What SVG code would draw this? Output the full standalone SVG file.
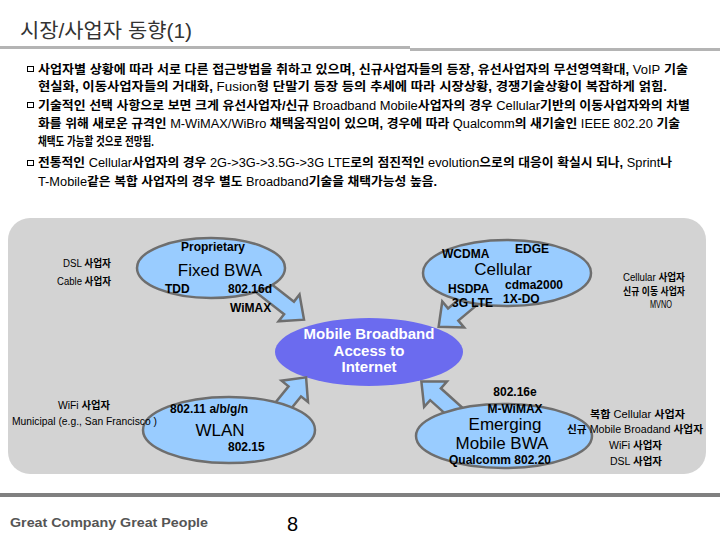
<svg xmlns="http://www.w3.org/2000/svg" width="720" height="540" viewBox="0 0 720 540">
<defs>
<style>
text{font-family:"Liberation Sans","Noto Sans CJK KR",sans-serif;fill:#000}
.title{font-size:20px;fill:#333}
.body{font-size:12.5px;font-weight:bold}
.n{font-weight:normal}
.small{font-size:10px}
.sb{font-weight:bold}
.lbl{font-size:12px;font-weight:bold}
.big{font-size:17px}
.mb{font-size:15px;font-weight:bold;fill:#fff}
.oval{fill:#99ccff;stroke:#6e6e6e;stroke-width:2.5}
.arrow{fill:#99ccff;stroke:#6e6e6e;stroke-width:2.5;stroke-linejoin:miter}
.bul{fill:none;stroke:#000;stroke-width:1}
.foot{font-size:13px;font-weight:bold;fill:#555}
</style>
</defs>
<rect width="720" height="540" fill="#fff"/>
<g id="header">
<text class="title" x="20" y="38" textLength="172" lengthAdjust="spacingAndGlyphs">시장/사업자 동향(1)</text>
<rect x="0" y="46" width="410" height="3" fill="#b4b4b4"/>
<rect x="410" y="48" width="310" height="3" fill="#b4b4b4"/>
</g>
<g id="bullets">
<rect class="bul" x="27.5" y="66.5" width="6" height="5"/>
<rect class="bul" x="27.5" y="102.5" width="6" height="5"/>
<rect class="bul" x="27.5" y="160.5" width="6" height="5"/>
<text class="body" x="38" y="74" textLength="650" lengthAdjust="spacingAndGlyphs">사업자별 상황에 따라 서로 다른 접근방법을 취하고 있으며, 신규사업자들의 등장, 유선사업자의 무선영역확대, <tspan class="n">VoIP</tspan> 기술</text>
<text class="body" x="38" y="91" textLength="629" lengthAdjust="spacingAndGlyphs">현실화, 이동사업자들의 거대화, <tspan class="n">Fusion</tspan>형 단말기 등장 등의 추세에 따라 시장상황, 경쟁기술상황이 복잡하게 얽힘.</text>
<text class="body" x="38" y="110" textLength="652" lengthAdjust="spacingAndGlyphs">기술적인 선택 사항으로 보면 크게 유선사업자/신규 <tspan class="n">Broadband Mobile</tspan>사업자의 경우 <tspan class="n">Cellular</tspan>기반의 이동사업자와의 차별</text>
<text class="body" x="38" y="128" textLength="642" lengthAdjust="spacingAndGlyphs">화를 위해 새로운 규격인 <tspan class="n">M-WiMAX/WiBro</tspan> 채택움직임이 있으며, 경우에 따라 <tspan class="n">Qualcomm</tspan>의 새기술인 <tspan class="n">IEEE 802.20</tspan> 기술</text>
<text class="body" x="38" y="146" textLength="116" lengthAdjust="spacingAndGlyphs">채택도 가능할 것으로 전망됨.</text>
<text class="body" x="38" y="167" textLength="634" lengthAdjust="spacingAndGlyphs">전통적인 <tspan class="n">Cellular</tspan>사업자의 경우 <tspan class="n">2G-&gt;3G-&gt;3.5G-&gt;3G LTE</tspan>로의 점진적인 <tspan class="n">evolution</tspan>으로의 대응이 확실시 되나, <tspan class="n">Sprint</tspan>나</text>
<text class="body" x="38" y="186" textLength="399" lengthAdjust="spacingAndGlyphs"><tspan class="n">T-Mobile</tspan>같은 복합 사업자의 경우 별도 <tspan class="n">Broadband</tspan>기술을 채택가능성 높음.</text>
</g>
<rect id="panel" x="8" y="218" width="698" height="256" rx="22" fill="#d3d3d3"/>
<g id="mobile">
<ellipse cx="369" cy="352" rx="94" ry="34" fill="#6b6bef"/>
<text class="mb" x="369" y="339" text-anchor="middle">Mobile Broadband</text>
<text class="mb" x="369" y="356" text-anchor="middle">Access to</text>
<text class="mb" x="369" y="372" text-anchor="middle">Internet</text>
</g>
<g id="connectors">
<polygon class="arrow" transform="translate(252,279) rotate(38)" points="0,-8 47,-8 47,-17 66,0 47,17 47,8 0,8"/>
<polygon class="arrow" transform="translate(480,292) rotate(140)" points="0,-8 35,-8 35,-17 54,0 35,17 35,8 0,8"/>
<polygon class="arrow" transform="translate(274,417) rotate(-51)" points="0,-8 33,-8 33,-17 51,0 33,17 33,8 0,8"/>
<polygon class="arrow" transform="translate(463,419) rotate(-138)" points="0,-8 37,-8 37,-17 56,0 37,17 37,8 0,8"/>
</g>
<g id="fixed">
<ellipse class="oval" cx="211" cy="268" rx="74" ry="30"/>
<text class="lbl" x="213" y="251" text-anchor="middle">Proprietary</text>
<text class="big" x="220" y="276" text-anchor="middle">Fixed BWA</text>
<text class="lbl" x="165" y="293">TDD</text>
<text class="lbl" x="228" y="293">802.16d</text>
<text class="lbl" x="230" y="312">WiMAX</text>
</g>
<g id="cellular">
<ellipse class="oval" cx="507" cy="273" rx="84" ry="33"/>
<text class="lbl" x="442" y="258">WCDMA</text>
<text class="lbl" x="515" y="253">EDGE</text>
<text class="big" x="503" y="275" text-anchor="middle">Cellular</text>
<text class="lbl" x="448" y="293">HSDPA</text>
<text class="lbl" x="505" y="289">cdma2000</text>
<text class="lbl" x="503" y="303">1X-DO</text>
<text class="lbl" x="452" y="307">3G LTE</text>
</g>
<g id="wlan">
<ellipse class="oval" cx="229" cy="430" rx="86" ry="33"/>
<text class="lbl" x="170" y="413">802.11 a/b/g/n</text>
<text class="big" x="220" y="436" text-anchor="middle">WLAN</text>
<text class="lbl" x="228" y="451">802.15</text>
</g>
<g id="emerging">
<ellipse class="oval" cx="504" cy="436" rx="88" ry="32"/>
<text class="lbl" x="515" y="396" text-anchor="middle">802.16e</text>
<text class="lbl" x="515" y="413" text-anchor="middle">M-WiMAX</text>
<text class="big" x="505" y="430" text-anchor="middle" font-size="16.5">Emerging</text>
<text class="big" x="502" y="449" text-anchor="middle" font-size="16.5">Mobile BWA</text>
<text class="lbl" x="500" y="464" text-anchor="middle" font-size="11.5">Qualcomm 802.20</text>
</g>
<g id="labels">
<text class="small" x="63" y="267" textLength="48" lengthAdjust="spacingAndGlyphs">DSL <tspan class="sb">사업자</tspan></text>
<text class="small" x="57" y="285" textLength="54" lengthAdjust="spacingAndGlyphs">Cable <tspan class="sb">사업자</tspan></text>
<text class="small" x="623" y="281" textLength="62" lengthAdjust="spacingAndGlyphs">Cellular <tspan class="sb">사업자</tspan></text>
<text class="small sb" x="623" y="295" textLength="62" lengthAdjust="spacingAndGlyphs">신규 이동 사업자</text>
<text class="small" x="650" y="308" textLength="22" lengthAdjust="spacingAndGlyphs" font-size="9">MVNO</text>
<text class="small" x="58" y="409" textLength="52" lengthAdjust="spacingAndGlyphs">WiFi <tspan class="sb">사업자</tspan></text>
<text class="small" x="12" y="425" textLength="145" lengthAdjust="spacingAndGlyphs">Municipal (e.g., San Francisco )</text>
<text class="small" x="590" y="418" textLength="95" lengthAdjust="spacingAndGlyphs"><tspan class="sb">복합</tspan> Cellular <tspan class="sb">사업자</tspan></text>
<text class="small" x="567" y="433" textLength="136" lengthAdjust="spacingAndGlyphs"><tspan class="sb">신규</tspan> Mobile Broadand <tspan class="sb">사업자</tspan></text>
<text class="small" x="609" y="449" textLength="53" lengthAdjust="spacingAndGlyphs">WiFi <tspan class="sb">사업자</tspan></text>
<text class="small" x="610" y="465" textLength="52" lengthAdjust="spacingAndGlyphs">DSL <tspan class="sb">사업자</tspan></text>
</g>
<g id="footer">
<rect x="0" y="493" width="720" height="4" fill="#808080"/>
<text class="foot" x="10" y="527" textLength="198" lengthAdjust="spacingAndGlyphs">Great Company  Great People</text>
<text x="287" y="531" font-size="20">8</text>
</g>
</svg>
